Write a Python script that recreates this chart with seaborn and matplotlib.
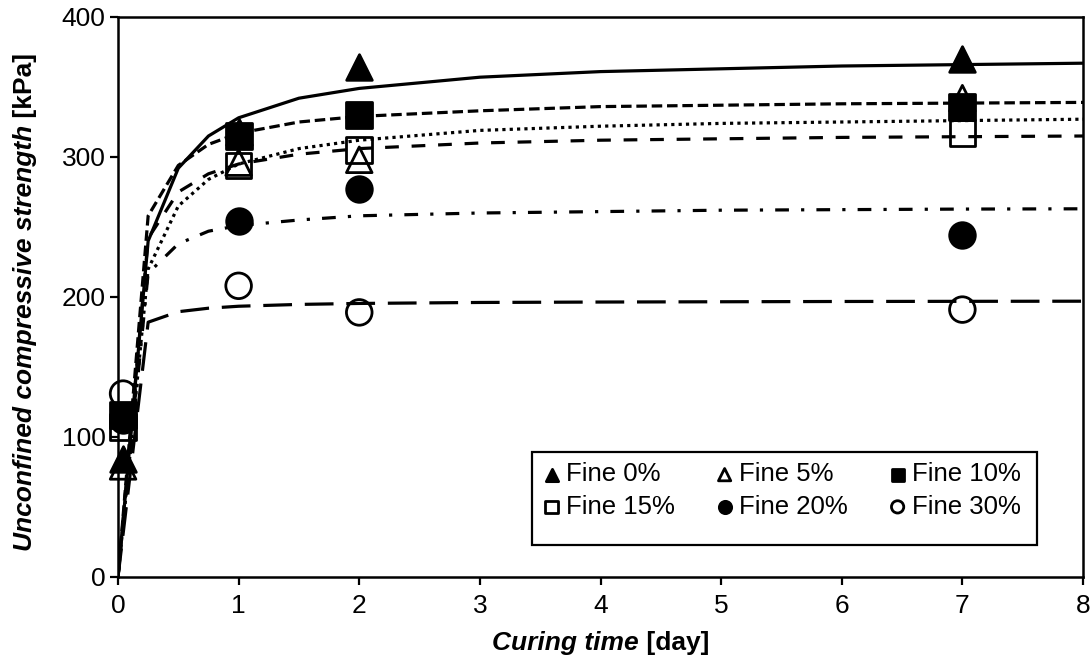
import matplotlib
matplotlib.use("Agg")
import matplotlib.pyplot as plt
from matplotlib.patches import Rectangle
import seaborn as sns
import numpy as np

# measured UCS values [kPa] at each curing time [day]
t_test = [0.042, 1, 2, 7]
fine0 = [84, 318, 364, 370]
fine5 = [79, 296, 298, 342]
fine10 = [116, 315, 330, 336]
fine15 = [107, 294, 305, 317]
fine20 = [112, 254, 277, 244]
fine30 = [131, 208, 189, 191]

# fitted curves
t_fit = [0, 0.25, 0.5, 0.75, 1, 1.5, 2, 3, 4, 5, 6, 7, 8]
fit0 = [0, 240, 292, 315, 328, 342, 349, 357, 361, 363, 365, 366, 367]
fit5 = [0, 220, 265, 284, 295, 306, 312, 319, 322, 324, 325, 326, 327]
fit10 = [0, 258, 294, 309, 317, 325, 329, 333, 336, 337, 338, 338.5, 339]
fit15 = [0, 242, 275, 288, 295, 302, 306, 310, 312, 313, 314, 314.5, 315]
fit20 = [0, 217, 238, 247, 251, 255, 258, 260, 261, 262, 262.4, 262.8, 263]
fit30 = [0, 182, 189.5, 192, 193.4, 194.7, 195.4, 196.1, 196.4, 196.6, 196.8, 196.9, 197]

labels = ["Fine 0%", "Fine 5%", "Fine 10%", "Fine 15%", "Fine 20%", "Fine 30%"]

sns.set_style("ticks")
plt.rcParams["font.family"] = ["Liberation Sans", "DejaVu Sans"]
plt.rcParams["text.color"] = "black"
plt.rcParams["axes.labelcolor"] = "black"
plt.rcParams["xtick.color"] = "black"
plt.rcParams["ytick.color"] = "black"
FS = 19

fig = plt.figure(figsize=(10.92, 6.61), dpi=100)
ax = fig.add_axes([118 / 1092, 1 - 577 / 661, 965 / 1092, 560 / 661])

# --- data points ---
series = [
    (fine0, "^", "black"),
    (fine5, "^", "none"),
    (fine10, "s", "black"),
    (fine15, "s", "none"),
    (fine20, "o", "black"),
    (fine30, "o", "none"),
]
for (vals, mk, fc), lab in zip(series, labels):
    sns.scatterplot(x=t_test, y=vals, marker=mk, s=340, facecolor=fc,
                    edgecolor="black", linewidth=2.0, label=lab, ax=ax,
                    zorder=3, clip_on=False)

# --- fitted curves ---
fits = [
    (fit0, "-"),
    (fit5, (0, (1.0, 1.3))),
    (fit10, (0, (3.3, 1.5))),
    (fit15, (0, (4.3, 4.0))),
    (fit20, (0, (4.3, 3.8, 1.0, 3.8))),
    (fit30, (0, (9.0, 4.0))),
]
for vals, ls in fits:
    sns.lineplot(x=t_fit, y=vals, color="black", linewidth=2.3, linestyle=ls,
                 ax=ax, zorder=4, legend=False)

ax.set_xlim(0, 8)
ax.set_ylim(0, 400)
ax.set_xticks(range(0, 9))
ax.set_yticks([0, 100, 200, 300, 400])
ax.tick_params(direction="out", length=6, width=1.6, labelsize=FS, colors="black")
ax.tick_params(axis="x", pad=6)
ax.tick_params(axis="y", pad=3)
for sp in ax.spines.values():
    sp.set_visible(True)
    sp.set_linewidth(1.8)
    sp.set_color("black")
ax.set_xlabel("")
ax.set_ylabel("")

# legend box (Excel style: text sits high in the frame)
ax.add_patch(Rectangle((0.429, 0.057), 0.523, 0.166, transform=ax.transAxes,
                       facecolor="white", edgecolor="black", linewidth=1.6,
                       zorder=5))

# legend filled row by row: 0/5/10 on top, 15/20/30 below
handles, labs = ax.get_legend_handles_labels()
order = [0, 3, 1, 4, 2, 5]
leg = ax.legend([handles[i] for i in order], [labs[i] for i in order],
                ncol=3, loc="lower right", bbox_to_anchor=(0.950, 0.079),
                borderaxespad=0, fontsize=FS - 0.5, markerscale=0.48,
                frameon=False, handletextpad=0.05, columnspacing=1.45,
                handlelength=1.0, borderpad=0.55, labelspacing=0.32)
leg.set_zorder(6)
for t in leg.get_texts():
    t.set_color("black")

# --- axis labels with mixed styles ---
fig.canvas.draw()
r = fig.canvas.get_renderer()

xc = (118 + 1083) / 2 / 1092
xa = fig.text(0, 0, "Curing time", fontsize=FS, fontweight="bold", fontstyle="italic")
xb = fig.text(0, 0, " [day]", fontsize=FS, fontweight="bold")
w1 = xa.get_window_extent(r).width / 1092
w2 = xb.get_window_extent(r).width / 1092
left = xc - (w1 + w2) / 2
yb = 1 - 650 / 661
xa.set_position((left, yb))
xb.set_position((left + w1, yb))

yc = 1 - 297 / 661
ya = fig.text(0, 0, "Unconfined compressive strength", fontsize=FS,
              fontweight="bold", fontstyle="italic", rotation=90)
yb2 = fig.text(0, 0, " [kPa]", fontsize=FS, fontweight="bold", rotation=90)
h1 = ya.get_window_extent(r).height / 661
h2 = yb2.get_window_extent(r).height / 661
bottom = yc - (h1 + h2) / 2
xl = 13 / 1092
ya.set_position((xl, bottom))
yb2.set_position((xl, bottom + h1))

fig.savefig("out.png", dpi=100)
